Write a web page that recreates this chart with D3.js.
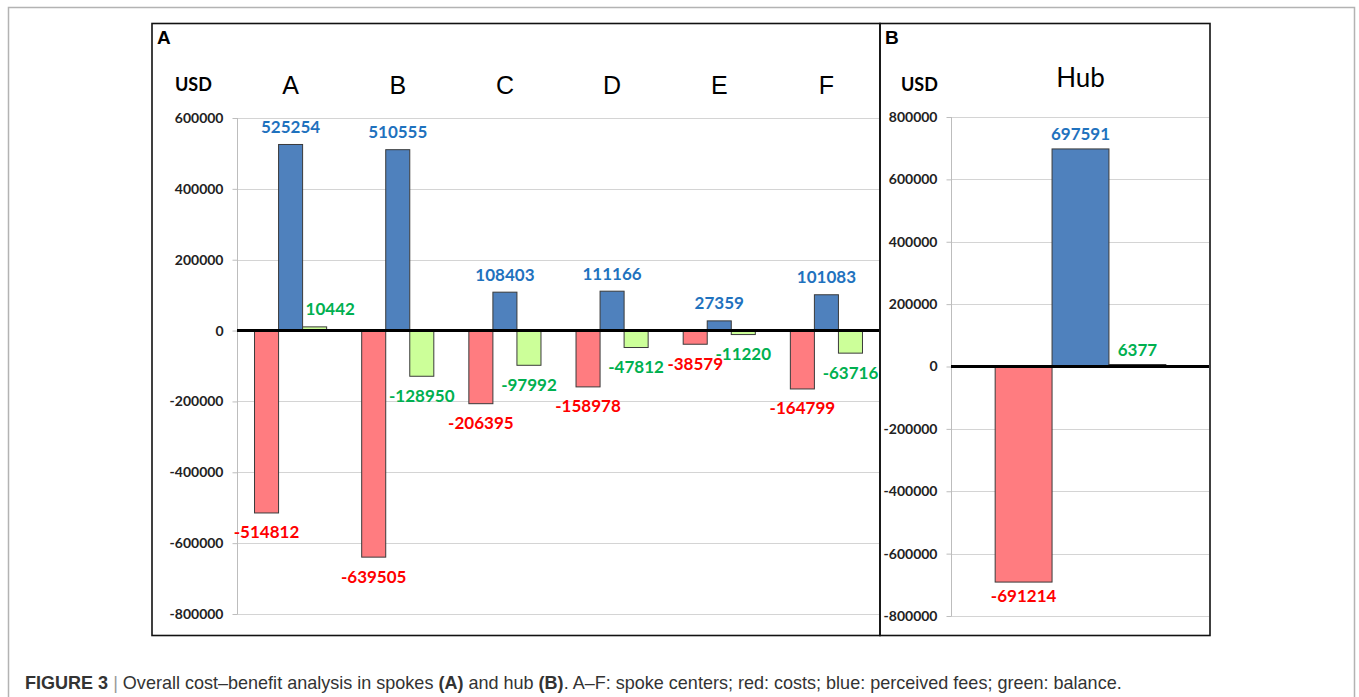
<!DOCTYPE html>
<html>
<head>
<meta charset="utf-8">
<script src="https://cdn.jsdelivr.net/npm/d3@7"></script>
<style>
  html, body { margin: 0; padding: 0; background: #fff; }
  svg { display: block; }
</style>
</head>
<body>
<svg id="fig" width="1359" height="697"></svg>
<script>
// Spoke centres (panel A)
const spokeCategories = ["A", "B", "C", "D", "E", "F"];
const spokeCosts = [-514812, -639505, -206395, -158978, -38579, -164799];
const spokeFees = [525254, 510555, 108403, 111166, 27359, 101083];
const spokeBalance = [10442, -128950, -97992, -47812, -11220, -63716];
const spokeTicks = [600000, 400000, 200000, 0, -200000, -400000, -600000, -800000];

// Hub (panel B)
const hubCategories = ["Hub"];
const hubCosts = [-691214];
const hubFees = [697591];
const hubBalance = [6377];
const hubTicks = [800000, 600000, 400000, 200000, 0, -200000, -400000, -600000, -800000];

const seriesKeys = ["costs", "fees", "balance"];
const barFill = { costs: "#FF7C80", fees: "#4F81BD", balance: "#CCFF99" };
const labelFill = { costs: "#FF0000", fees: "#1F72BE", balance: "#00B050" };

const svg = d3.select("#fig");

// outer figure frame (open at the bottom)
svg.append("path")
  .attr("d", "M8.5,700 L8.5,7.5 L1354.5,7.5 L1354.5,700")
  .attr("fill", "none").attr("stroke", "#b3b3b3").attr("stroke-width", 1.5);

// plain integers with an ASCII hyphen for negatives
const fmt = v => String(v);

function drawPanel(opt) {
  const g = svg.append("g");
  const rows = opt.categories.map((c, i) => ({
    cat: c,
    values: seriesKeys.map((k, j) => ({ key: k, cat: c, v: opt.series[j][i] }))
  }));

  const y = d3.scaleLinear().domain(opt.domain).range([opt.bottom, opt.top]);
  const x0 = d3.scaleBand().domain(opt.categories)
    .range([opt.left, opt.right]).paddingInner(opt.pad).paddingOuter(opt.pad / 2);
  const x1 = d3.scaleBand().domain(seriesKeys).range([0, x0.bandwidth()]);

  // panel box
  g.append("rect")
    .attr("x", opt.box[0]).attr("y", opt.box[1])
    .attr("width", opt.box[2] - opt.box[0]).attr("height", opt.box[3] - opt.box[1])
    .attr("fill", "none").attr("stroke", "#111").attr("stroke-width", 1.6);

  // grid lines
  g.append("g").selectAll("line").data(opt.ticks.filter(t => t !== 0)).join("line")
    .attr("x1", opt.left).attr("x2", opt.right - 1)
    .attr("y1", d => Math.round(y(d)) + 0.5).attr("y2", d => Math.round(y(d)) + 0.5)
    .attr("stroke", "#d4d4d4").attr("stroke-width", 1);

  // y axis
  const axis = d3.axisLeft(y).tickValues(opt.ticks).tickSize(5).tickPadding(9)
    .tickFormat(fmt);
  const ag = g.append("g").attr("transform", `translate(${opt.left + 0.5},0)`).call(axis);
  ag.select(".domain").attr("stroke", "#bdbdbd").attr("d", `M0,${y(opt.ticks[0])}V${y(opt.ticks[opt.ticks.length - 1])}`);
  ag.selectAll(".tick line").attr("stroke", "#bdbdbd");
  ag.selectAll(".tick text")
    .attr("font-family", "Lato, 'Open Sans', sans-serif")
    .attr("font-weight", "bold").attr("font-size", 14).attr("fill", "#222");

  // panel letter
  g.append("text").attr("x", opt.box[0] + 5).attr("y", opt.box[1] + 20)
    .attr("font-family", "'Liberation Sans', Arial, sans-serif")
    .attr("font-weight", "bold").attr("font-size", 19).attr("fill", "#000")
    .text(opt.letter);

  // unit label
  g.append("text").attr("x", opt.usdX).attr("y", 91)
    .attr("font-family", "Lato, sans-serif").attr("font-weight", "bold")
    .attr("font-size", 18).attr("fill", "#000").text("USD");

  // category headers
  g.append("g").selectAll("text").data(opt.categories).join("text")
    .attr("x", d => x0(d) + x0.bandwidth() / 2).attr("y", opt.catY)
    .attr("text-anchor", "middle")
    .attr("font-family", opt.catFont).attr("font-size", opt.catSize).attr("fill", "#000")
    .text(d => d);

  // bars
  const bars = [];
  const groups = g.append("g").selectAll("g").data(rows).join("g")
    .attr("transform", d => `translate(${x0(d.cat)},0)`);
  groups.selectAll("rect").data(d => d.values).join("rect")
    .attr("x", d => x1(d.key))
    .attr("y", d => y(Math.max(0, d.v)))
    .attr("width", x1.bandwidth())
    .attr("height", d => Math.abs(y(d.v) - y(0)))
    .attr("fill", d => barFill[d.key])
    .attr("stroke", "#3a3a3a").attr("stroke-width", 1)
    .each(function (d) {
      const gx = x0(d.cat) + x1(d.key);
      bars.push({ d, x0: gx, x1: gx + x1.bandwidth(), yTop: y(Math.max(0, d.v)), yBot: y(Math.min(0, d.v)) });
    });

  // zero line
  g.append("line")
    .attr("x1", opt.left).attr("x2", opt.right - 1)
    .attr("y1", y(0)).attr("y2", y(0))
    .attr("stroke", "#000").attr("stroke-width", 3);

  // value labels, nudged sideways when they would sit on a neighbouring bar
  const lg = g.append("g");
  bars.forEach(b => {
    const d = b.d;
    const cx = (b.x0 + b.x1) / 2;
    const cy = d.v >= 0 ? y(d.v) - opt.offUp : y(d.v) + opt.offDown;
    const t = lg.append("text")
      .attr("x", cx).attr("y", cy)
      .attr("text-anchor", "middle").attr("dominant-baseline", "central")
      .attr("font-family", "Lato, 'Open Sans', sans-serif").attr("font-weight", "bold")
      .attr("font-size", opt.labelSize).attr("fill", labelFill[d.key])
      .text(fmt(d.v));
    const w = t.node().getComputedTextLength();
    let left = cx - w / 2, right = cx + w / 2;
    const top = cy - 7, bottom = cy + 7;
    bars.forEach(o => {
      if (o === b || o.d.cat !== d.cat) return;
      const hitY = bottom > o.yTop && top < o.yBot;
      if (hitY && right > o.x0 && left < o.x1) {
        if (o.x0 < b.x0) { const s = o.x1 + 3 - left; left += s; right += s; }
        else { const s = right - (o.x0 - 3); left -= s; right -= s; }
      }
    });
    t.attr("x", (left + right) / 2);
  });
}

drawPanel({
  categories: spokeCategories,
  series: [spokeCosts, spokeFees, spokeBalance],
  ticks: spokeTicks,
  domain: [-800000, 600000],
  top: 118, bottom: 614,
  left: 237, right: 880,
  pad: 0.327,
  box: [152, 23.5, 880, 635.5],
  letter: "A",
  usdX: 175,
  catY: 94, catFont: "'Liberation Sans', Arial, sans-serif", catSize: 25,
  offUp: 18, offDown: 19, labelSize: 17
});

drawPanel({
  categories: hubCategories,
  series: [hubCosts, hubFees, hubBalance],
  ticks: hubTicks,
  domain: [-800000, 800000],
  top: 117, bottom: 616,
  left: 951, right: 1210,
  pad: 0.341,
  box: [880, 23.5, 1210, 635.5],
  letter: "B",
  usdX: 901,
  catY: 87, catFont: "Lato, sans-serif", catSize: 26,
  offUp: 15, offDown: 13, labelSize: 17
});

// caption, set in a condensed cut
const capG = svg.append("g").attr("transform", "translate(25,689)");
const cap = capG.append("text").attr("x", 0).attr("y", 0)
  .attr("font-family", "'Liberation Sans', Arial, sans-serif")
  .attr("font-size", 19).attr("fill", "#333");
cap.append("tspan").attr("font-weight", "bold").text("FIGURE 3");
cap.append("tspan").attr("fill", "#999").text(" | ");
cap.append("tspan").text("Overall cost\u2013benefit analysis in spokes ");
cap.append("tspan").attr("font-weight", "bold").text("(A)");
cap.append("tspan").text(" and hub ");
cap.append("tspan").attr("font-weight", "bold").text("(B)");
cap.append("tspan").text(". A\u2013F: spoke centers; red: costs; blue: perceived fees; green: balance.");
const capW = cap.node().getComputedTextLength();
capG.attr("transform", `translate(25,689) scale(${1097 / capW},1)`);
</script>
</body>
</html>
